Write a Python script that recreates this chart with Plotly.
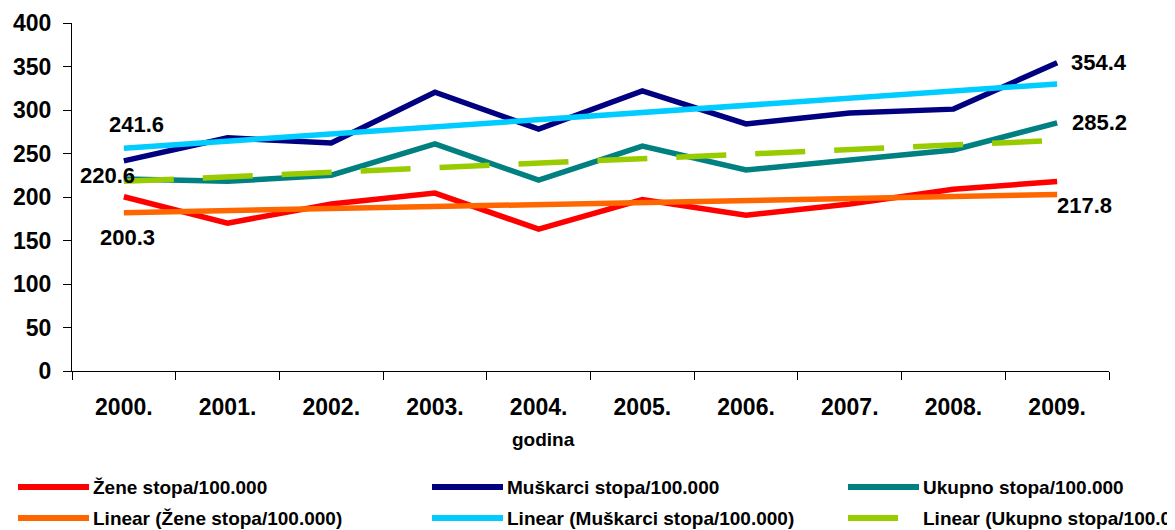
import plotly.graph_objects as go

years = ["2000.", "2001.", "2002.", "2003.", "2004.", "2005.", "2006.", "2007.", "2008.", "2009."]
zene = [200.3, 170, 192, 204.5, 163, 197, 179, 192, 209, 217.8]
muskarci = [241.6, 268, 262, 320.5, 278, 322, 284, 296.5, 301, 354.4]
ukupno = [220.6, 218, 225, 261, 219.5, 258.5, 231, 242.5, 254, 285.2]

trend_x = ["2000.", "2009."]
trend_zene = [182, 203]
trend_muskarci = [256, 330]
trend_ukupno = [218, 265]

series_names = ["Žene stopa/100.000", "Muškarci stopa/100.000", "Ukupno stopa/100.000",
                "Linear (Žene stopa/100.000)", "Linear (Muškarci stopa/100.000)",
                "Linear (Ukupno stopa/100.000)"]
colors = ["#FF0000", "#000080", "#008080", "#FF6600", "#00CCFF", "#99CC00"]

FONT = "Liberation Sans, Arial, sans-serif"
# page body has an 8px margin; the figure is sized to fit the window exactly
OFF = 8
W, H = 1175 - OFF, 530 - OFF
# target plot area in window pixels: x 72..1109, y 23..371
L, T = 72 - OFF, 23 - OFF
R = W - (1109 - OFF)
B = H - (371 - OFF)
PW, PH = W - L - R, H - T - B


def px2paper_x(px):  # px in window coordinates
    return (px - OFF - L) / PW


def px2paper_y(py):
    return (H - B - (py - OFF)) / PH


LW = 5.5
DASH = "50px,29px"

fig = go.Figure()
for name, ys, c in [(series_names[0], zene, colors[0]),
                    (series_names[1], muskarci, colors[1]),
                    (series_names[2], ukupno, colors[2])]:
    fig.add_trace(go.Scatter(x=years, y=ys, mode="lines", name=name, showlegend=False,
                             line=dict(color=c, width=LW)))
for name, ys, c, d in [(series_names[3], trend_zene, colors[3], "solid"),
                       (series_names[4], trend_muskarci, colors[4], "solid"),
                       (series_names[5], trend_ukupno, colors[5], DASH)]:
    fig.add_trace(go.Scatter(x=trend_x, y=ys, mode="lines", name=name, showlegend=False,
                             line=dict(color=c, width=LW, dash=d)))

# data labels for first and last points
first, last = 0, len(years) - 1
labels = [
    (first, muskarci[first], 13, 36),
    (first, ukupno[first], -16, 4),
    (first, zene[first], 4, -41),
    (last, muskarci[last], 42, 0),
    (last, ukupno[last], 42, 0),
    (last, zene[last], 27, -24),
]
for xi, y, dx, dy in labels:
    fig.add_annotation(x=xi, y=y, xref="x", yref="y", text=f"<b>{y:.1f}</b>", showarrow=False,
                       xanchor="center", yanchor="middle",
                       xshift=dx, yshift=dy, font=dict(family=FONT, size=22, color="black"))

# axis title "godina"
fig.add_annotation(x=px2paper_x(543), y=px2paper_y(439), xref="paper", yref="paper",
                   xanchor="center", yanchor="middle",
                   text="<b>godina</b>", showarrow=False,
                   font=dict(family=FONT, size=19, color="black"))

# manual legend (2 rows x 3 columns)
cols = [18, 432, 848]
rows = [487, 518]
for i, (name, c) in enumerate(zip(series_names, colors)):
    cx = cols[i % 3]
    ry = rows[i // 3]
    dash = DASH if i == 5 else "solid"
    fig.add_shape(type="line", xref="paper", yref="paper",
                  x0=px2paper_x(cx), x1=px2paper_x(cx + 71),
                  y0=px2paper_y(ry), y1=px2paper_y(ry),
                  line=dict(color=c, width=6, dash=dash))
    fig.add_annotation(x=px2paper_x(cx + 73), y=px2paper_y(ry), xref="paper", yref="paper",
                       xanchor="left", yanchor="middle", text=f"<b>{name}</b>", showarrow=False,
                       font=dict(family=FONT, size=19, color="black"))

fig.update_layout(
    width=W, height=H,
    margin=dict(l=L, r=R, t=T, b=B, autoexpand=False),
    paper_bgcolor="white", plot_bgcolor="white",
    font=dict(family=FONT, color="black"),
    showlegend=False,
)
fig.update_xaxes(type="category", range=[-0.5, 9.5], showline=True, linecolor="black", linewidth=1,
                 ticks="outside", tickson="boundaries", ticklen=8, tickcolor="black",
                 showgrid=False, tickfont=dict(family=FONT, size=23, color="black"),
                 tickangle=0, ticklabelstandoff=15,
                 tickvals=years, ticktext=[f"<b>{y}</b>" for y in years])
yt = list(range(0, 401, 50))
fig.update_yaxes(range=[0, 400], showline=True, linecolor="black", linewidth=1,
                 ticks="outside", ticklen=8, tickcolor="black", showgrid=False, zeroline=False,
                 tickfont=dict(family=FONT, size=23, color="black"),
                 ticklabelstandoff=7, tickvals=yt, ticktext=[f"<b>{v}</b>" for v in yt])

fig.write_html("out.html")
